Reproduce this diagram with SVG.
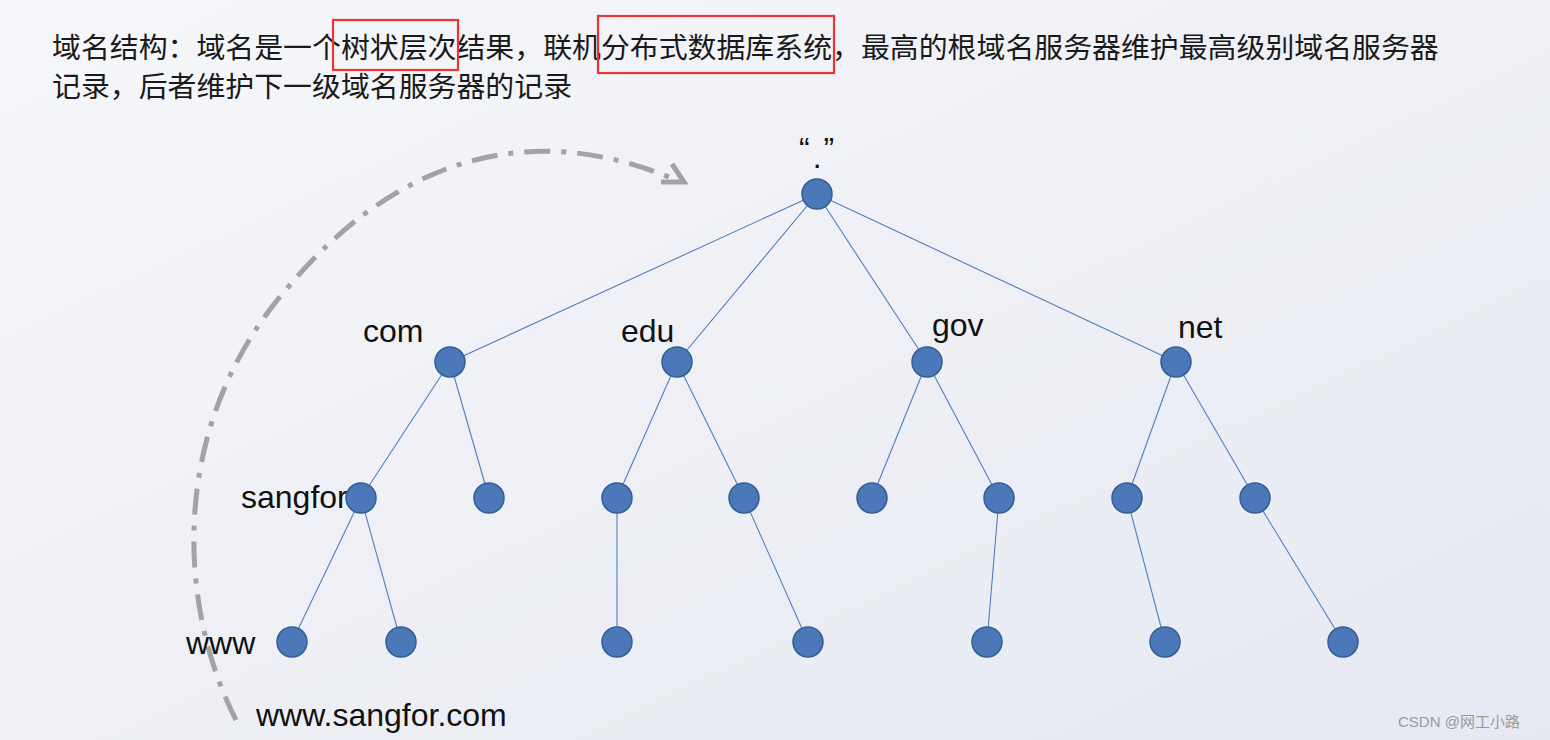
<svg xmlns="http://www.w3.org/2000/svg" width="1550" height="740" viewBox="0 0 1550 740">
<defs>
<linearGradient id="bg" x1="0" y1="0" x2="1" y2="1">
<stop offset="0" stop-color="#f6f7fa"/>
<stop offset="1" stop-color="#e6e9f1"/>
</linearGradient>
<style>
.hd{font-family:"Noto Sans CJK SC","Noto Sans",sans-serif;font-size:28.9px;fill:#1a1a1a}
.lb{font-family:"Liberation Sans",Arial,sans-serif;font-size:32px;fill:#111}
.nd{fill:#4a78b8;stroke:#345d92;stroke-width:1.5}
.ed{stroke:#4f7fbd;stroke-width:1.1;fill:none}
.box{fill:none;stroke:#ee3333;stroke-width:2.2}
.arc{fill:none;stroke:#a3a3a3;stroke-width:5;stroke-dasharray:26 11 5 11}
</style>
</defs>
<rect width="1550" height="740" fill="url(#bg)"/>
<g id="header">
<text class="hd" x="52" y="58">域名结构：域名是一个树状层次结果，联机分布式数据库系统，最高的根域名服务器维护最高级别域名服务器</text>
<text class="hd" x="52" y="97">记录，后者维护下一级域名服务器的记录</text>
<rect class="box" x="333" y="20" width="125" height="50"/>
<rect class="box" x="598" y="16" width="236" height="57"/>
</g>
<g id="arc">
<path class="arc" d="M 236 720 C 175 600, 170 420, 290 285 C 370 190, 500 105, 676 180"/>
<path d="M 672 164 L 684 182 L 661 182" fill="none" stroke="#a3a3a3" stroke-width="5"/>
</g>
<g id="connectors">
<line class="ed" x1="817" y1="194" x2="450" y2="362"/>
<line class="ed" x1="817" y1="194" x2="677" y2="362"/>
<line class="ed" x1="817" y1="194" x2="927" y2="362"/>
<line class="ed" x1="817" y1="194" x2="1176" y2="362"/>
<line class="ed" x1="450" y1="362" x2="361" y2="498"/>
<line class="ed" x1="450" y1="362" x2="489" y2="498"/>
<line class="ed" x1="677" y1="362" x2="617" y2="498"/>
<line class="ed" x1="677" y1="362" x2="744" y2="498"/>
<line class="ed" x1="927" y1="362" x2="872" y2="498"/>
<line class="ed" x1="927" y1="362" x2="999" y2="498"/>
<line class="ed" x1="1176" y1="362" x2="1127" y2="498"/>
<line class="ed" x1="1176" y1="362" x2="1255" y2="498"/>
<line class="ed" x1="361" y1="498" x2="292" y2="642"/>
<line class="ed" x1="361" y1="498" x2="401" y2="642"/>
<line class="ed" x1="617" y1="498" x2="617" y2="642"/>
<line class="ed" x1="744" y1="498" x2="808" y2="642"/>
<line class="ed" x1="999" y1="498" x2="987" y2="642"/>
<line class="ed" x1="1127" y1="498" x2="1165" y2="642"/>
<line class="ed" x1="1255" y1="498" x2="1343" y2="642"/>
</g>
<g id="root"><circle class="nd" cx="817" cy="194" r="15"/><text class="lb" x="799" y="160">“<tspan dx="3" dy="8">.</tspan><tspan dx="2" dy="-8">”</tspan></text></g>
<g id="com"><text class="lb" x="363" y="342">com</text><circle class="nd" cx="450" cy="362" r="15"/></g>
<g id="edu"><text class="lb" x="621" y="342">edu</text><circle class="nd" cx="677" cy="362" r="15"/></g>
<g id="gov"><text class="lb" x="932" y="336">gov</text><circle class="nd" cx="927" cy="362" r="15"/></g>
<g id="net"><text class="lb" x="1178" y="338">net</text><circle class="nd" cx="1176" cy="362" r="15"/></g>
<g id="sangfor"><text class="lb" x="241" y="508">sangfor</text><circle class="nd" cx="361" cy="498" r="15"/></g>
<g id="n2b"><circle class="nd" cx="489" cy="498" r="15"/></g>
<g id="n2c"><circle class="nd" cx="617" cy="498" r="15"/></g>
<g id="n2d"><circle class="nd" cx="744" cy="498" r="15"/></g>
<g id="n2e"><circle class="nd" cx="872" cy="498" r="15"/></g>
<g id="n2f"><circle class="nd" cx="999" cy="498" r="15"/></g>
<g id="n2g"><circle class="nd" cx="1127" cy="498" r="15"/></g>
<g id="n2h"><circle class="nd" cx="1255" cy="498" r="15"/></g>
<g id="www"><text class="lb" x="186" y="654">www</text><circle class="nd" cx="292" cy="642" r="15"/></g>
<g id="n3b"><circle class="nd" cx="401" cy="642" r="15"/></g>
<g id="n3c"><circle class="nd" cx="617" cy="642" r="15"/></g>
<g id="n3d"><circle class="nd" cx="808" cy="642" r="15"/></g>
<g id="n3e"><circle class="nd" cx="987" cy="642" r="15"/></g>
<g id="n3f"><circle class="nd" cx="1165" cy="642" r="15"/></g>
<g id="n3g"><circle class="nd" cx="1343" cy="642" r="15"/></g>
<text class="lb" x="256" y="726">www.sangfor.com</text>
<text x="1398" y="727" style="font-family:'Liberation Sans','Noto Sans CJK SC',sans-serif;font-size:15px;fill:#9a9a9a">CSDN @网工小路</text>
</svg>
